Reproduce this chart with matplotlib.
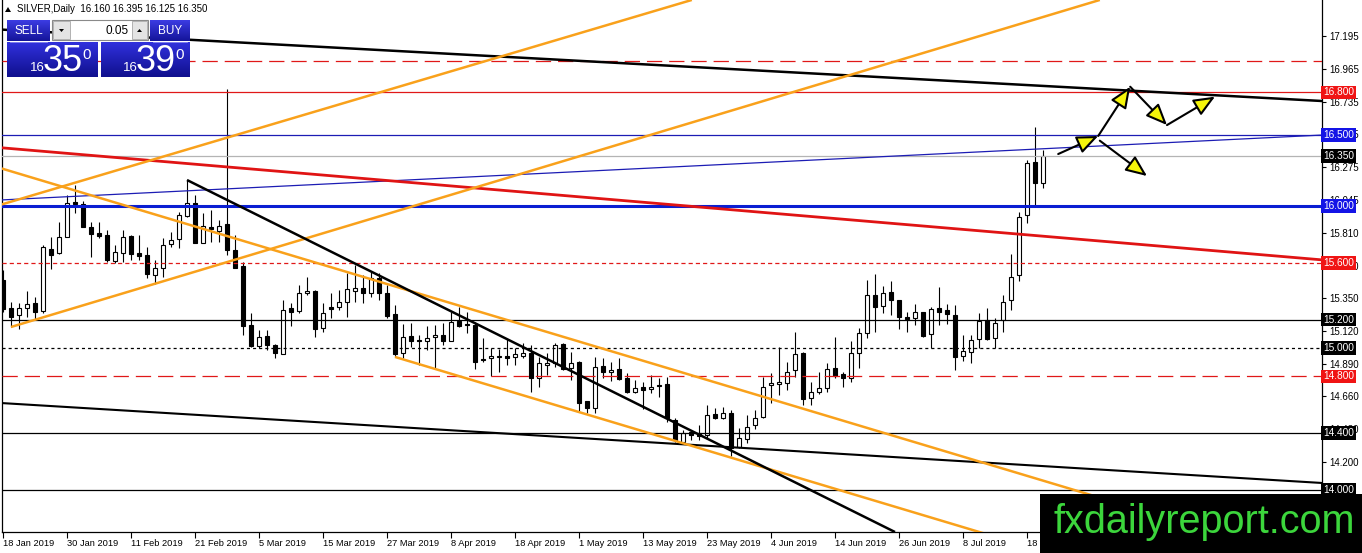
import numpy as np
import matplotlib
matplotlib.use('Agg')
import matplotlib.pyplot as plt
from matplotlib.patches import Rectangle, Polygon
from matplotlib.colors import LinearSegmentedColormap

plt.rcParams['font.family'] = ['Liberation Sans', 'DejaVu Sans']
plt.rcParams['lines.scale_dashes'] = False

# SILVER daily candles, 18 Jan 2019 onwards
opens = [15.479, 15.282, 15.232, 15.284, 15.317, 15.263, 15.695, 15.667, 15.784, 16.028,
         16.014, 15.854, 15.812, 15.796, 15.615, 15.671, 15.789, 15.671, 15.655, 15.514,
         15.561, 15.730, 15.766, 15.930, 16.023, 15.742, 15.854, 15.826, 15.873, 15.690,
         15.580, 15.162, 15.014, 15.085, 15.021, 14.958, 15.280, 15.261, 15.385, 15.401,
         15.139, 15.287, 15.291, 15.322, 15.404, 15.421, 15.385, 15.491, 15.385, 15.239,
         14.967, 15.085, 15.057, 15.052, 15.078, 15.092, 15.052, 15.192, 15.169, 15.162,
         14.920, 14.927, 14.940, 14.944, 14.935, 14.944, 14.963, 14.787, 14.880, 14.892,
         15.028, 14.857, 14.903, 14.629, 14.575, 14.873, 14.833, 14.850, 14.787, 14.692,
         14.723, 14.709, 14.737, 14.744, 14.493, 14.340, 14.406, 14.399, 14.388, 14.535,
         14.505, 14.544, 14.301, 14.357, 14.458, 14.512, 14.737, 14.744, 14.756, 14.845,
         14.963, 14.646, 14.692, 14.716, 14.857, 14.815, 14.787, 14.963, 15.104, 15.373,
         15.296, 15.397, 15.338, 15.220, 15.209, 15.251, 15.097, 15.280, 15.268, 15.232,
         14.944, 14.974, 15.064, 15.197, 15.069, 15.197, 15.338, 15.514, 15.937, 16.312,
         16.160]
highs = [15.549, 15.324, 15.317, 15.401, 15.359, 15.726, 15.780, 15.885, 16.077, 16.148,
         16.037, 15.889, 15.889, 15.831, 15.726, 15.831, 15.796, 15.796, 15.713, 15.620,
         15.773, 15.819, 15.960, 16.183, 16.077, 15.948, 15.972, 15.901, 16.822, 15.796,
         15.608, 15.244, 15.127, 15.127, 15.030, 15.338, 15.319, 15.444, 15.498, 15.405,
         15.315, 15.385, 15.408, 15.526, 15.585, 15.514, 15.537, 15.526, 15.444, 15.303,
         15.169, 15.174, 15.092, 15.155, 15.162, 15.174, 15.256, 15.287, 15.256, 15.185,
         15.068, 14.998, 14.990, 15.061, 14.998, 15.033, 15.021, 14.939, 14.967, 15.037,
         15.033, 14.974, 14.905, 14.630, 14.939, 14.932, 14.903, 14.927, 14.822, 14.775,
         14.763, 14.810, 14.787, 14.798, 14.505, 14.423, 14.423, 14.458, 14.599, 14.580,
         14.585, 14.563, 14.435, 14.528, 14.563, 14.798, 14.822, 15.009, 14.903, 15.115,
         14.975, 14.763, 14.833, 14.892, 15.080, 14.833, 15.052, 15.139, 15.479, 15.521,
         15.437, 15.474, 15.340, 15.256, 15.310, 15.256, 15.287, 15.432, 15.310, 15.303,
         15.092, 15.092, 15.249, 15.280, 15.209, 15.373, 15.662, 15.960, 16.324, 16.558,
         16.395]
lows = [15.254, 15.148, 15.134, 15.218, 15.197, 15.247, 15.559, 15.660, 15.782, 15.953,
        15.850, 15.643, 15.772, 15.608, 15.596, 15.608, 15.620, 15.620, 15.491, 15.451,
        15.502, 15.713, 15.702, 15.925, 15.742, 15.737, 15.744, 15.749, 15.655, 15.561,
        15.092, 15.010, 14.998, 14.986, 14.928, 14.955, 15.155, 15.244, 15.373, 15.080,
        15.115, 15.209, 15.268, 15.220, 15.326, 15.315, 15.361, 15.338, 15.209, 14.935,
        14.928, 15.009, 14.880, 14.986, 14.857, 15.021, 15.050, 15.150, 15.104, 14.850,
        14.901, 14.803, 14.833, 14.880, 14.880, 14.930, 14.692, 14.728, 14.810, 14.868,
        14.845, 14.775, 14.552, 14.540, 14.540, 14.787, 14.770, 14.775, 14.680, 14.680,
        14.568, 14.680, 14.658, 14.481, 14.340, 14.330, 14.352, 14.350, 14.364, 14.497,
        14.497, 14.239, 14.294, 14.329, 14.430, 14.510, 14.611, 14.669, 14.704, 14.798,
        14.599, 14.599, 14.675, 14.692, 14.787, 14.728, 14.763, 14.857, 15.068, 15.115,
        15.249, 15.232, 15.132, 15.115, 15.162, 15.075, 14.998, 15.162, 15.169, 14.845,
        14.910, 14.892, 14.998, 15.057, 14.998, 15.115, 15.268, 15.474, 15.882, 16.007,
        16.125]
closes = [15.275, 15.218, 15.282, 15.308, 15.254, 15.709, 15.657, 15.780, 16.023, 16.014,
          15.854, 15.801, 15.791, 15.620, 15.674, 15.780, 15.660, 15.650, 15.519, 15.561,
          15.726, 15.761, 15.937, 16.019, 15.742, 15.861, 15.838, 15.861, 15.690, 15.561,
          15.155, 15.014, 15.080, 15.021, 14.963, 15.268, 15.256, 15.385, 15.404, 15.132,
          15.244, 15.277, 15.326, 15.413, 15.421, 15.390, 15.491, 15.385, 15.225, 14.958,
          15.076, 15.052, 15.050, 15.069, 15.092, 15.052, 15.181, 15.155, 15.160, 14.903,
          14.915, 14.944, 14.944, 14.927, 14.958, 14.963, 14.787, 14.892, 14.892, 15.021,
          14.850, 14.892, 14.615, 14.575, 14.868, 14.829, 14.845, 14.780, 14.692, 14.716,
          14.704, 14.723, 14.732, 14.505, 14.352, 14.399, 14.388, 14.380, 14.528, 14.505,
          14.540, 14.294, 14.364, 14.446, 14.505, 14.728, 14.756, 14.763, 14.833, 14.956,
          14.639, 14.692, 14.720, 14.850, 14.803, 14.787, 14.963, 15.104, 15.373, 15.287,
          15.390, 15.338, 15.216, 15.206, 15.256, 15.087, 15.275, 15.256, 15.238, 14.939,
          14.979, 15.056, 15.190, 15.064, 15.178, 15.326, 15.502, 15.925, 16.305, 16.160,
          16.350]

date_labels = ['18 Jan 2019', '30 Jan 2019', '11 Feb 2019', '21 Feb 2019', '5 Mar 2019',
               '15 Mar 2019', '27 Mar 2019', '8 Apr 2019', '18 Apr 2019', '1 May 2019',
               '13 May 2019', '23 May 2019', '4 Jun 2019', '14 Jun 2019', '26 Jun 2019',
               '8 Jul 2019', '18 Jul 2019']
price_ticks = [17.195, 16.965, 16.735, 16.505, 16.275, 16.045, 15.810, 15.580,
               15.350, 15.120, 14.890, 14.660, 14.430, 14.200]

# horizontal levels
lvl_red_dash_top = 17.02
lvl_resist = 16.80
lvl_blue_thin = 16.50
lvl_bid = 16.35
lvl_blue_thick = 16.00
lvl_red_dot = 15.60
lvl_black_1 = 15.20
lvl_black_dot = 15.00
lvl_red_dash = 14.80
lvl_black_2 = 14.40
lvl_black_3 = 14.00

# trend lines, (bar, price) end points
black_top = [(-0.4, 17.243), (165, 16.739)]
blue_slope = [(-0.4, 16.042), (165, 16.500)]
red_slope = [(-0.4, 16.411), (165, 15.620)]
black_bottom = [(-0.4, 14.613), (165, 14.049)]
orange_up_low = [(1, 15.148), (137.1, 17.451)]
orange_up_high = [(-0.4, 16.007), (86.1, 17.451)]
orange_down_high = [(-0.4, 16.268), (165, 13.475)]
orange_down_low = [(49, 14.937), (165, 12.979)]
black_down = [(23, 16.183), (111.5, 13.704)]

# scenario arrows
arrows = [((131.9, 16.366), (136.9, 16.493)),
          ((136.9, 16.493), (140.9, 16.840)),
          ((137.1, 16.460), (143.0, 16.211)),
          ((140.9, 16.840), (145.5, 16.570)),
          ((145.5, 16.570), (151.5, 16.770))]

fig = plt.figure(figsize=(13.62, 5.53), dpi=100)
ax = fig.add_axes([2 / 1362, 21 / 553, 1320 / 1362, 532 / 553])
ax.set_xlim(-0.125, 164.875)
ax.set_ylim(13.7042, 17.4507)

x = np.arange(len(opens))
o = np.array(opens); h = np.array(highs); l = np.array(lows); c = np.array(closes)
up = c >= o
ax.vlines(x, l, h, color='black', lw=0.8, zorder=3)
ax.bar(x, np.abs(c - o), bottom=np.minimum(o, c), width=0.62,
       color=np.where(up, 'white', 'black'), edgecolor='black', lw=0.8, zorder=4)

orange = '#f9a11b'
# levels
ax.axhline(lvl_red_dash_top, color='#e01818', lw=0.9, dashes=(11, 5), zorder=5)
ax.axhline(lvl_resist, color='#e01818', lw=0.9, zorder=5)
ax.axhline(lvl_blue_thin, color='#1c1cb4', lw=0.9, zorder=5)
ax.axhline(lvl_bid, color='#b4b4b4', lw=0.9, zorder=5)
ax.axhline(lvl_blue_thick, color='#0a1ed2', lw=2.2, zorder=5)
ax.axhline(lvl_red_dot, color='#e01818', lw=0.9, dashes=(3, 2.2), zorder=5)
ax.axhline(lvl_black_1, color='black', lw=0.9, zorder=5)
ax.axhline(lvl_black_dot, color='black', lw=0.9, dashes=(2.2, 2.2), zorder=5)
ax.axhline(lvl_red_dash, color='#e01818', lw=0.9, dashes=(11, 5), zorder=5)
ax.axhline(lvl_black_2, color='black', lw=0.9, zorder=5)
ax.axhline(lvl_black_3, color='black', lw=0.9, zorder=5)

def seg(pts, **kw):
    ax.plot([pts[0][0], pts[1][0]], [pts[0][1], pts[1][1]], solid_capstyle='butt', zorder=5, **kw)

seg(black_top, color='black', lw=1.8)
seg(blue_slope, color='#1c1cb4', lw=0.9)
seg(red_slope, color='#e01414', lw=2.0)
seg(black_bottom, color='black', lw=1.5)
seg(orange_up_low, color=orange, lw=1.8)
seg(orange_up_high, color=orange, lw=1.8)
seg(orange_down_high, color=orange, lw=1.8)
seg(orange_down_low, color=orange, lw=1.8)
seg(black_down, color='black', lw=1.8)

for a, b in arrows:
    ax.annotate('', xy=b, xytext=a, zorder=7,
                arrowprops=dict(arrowstyle='-|>,head_length=1.3,head_width=0.55',
                                fc='#f5f50a', ec='black', lw=1.5, shrinkA=0, shrinkB=0))

# axes look
for s in ['left', 'right', 'bottom']:
    ax.spines[s].set_linewidth(0.9)
ax.spines['top'].set_visible(False)
ax.yaxis.tick_right()
ax.set_yticks(price_ticks)
ax.set_yticklabels(['%.3f' % v for v in price_ticks])
ax.tick_params(axis='y', direction='out', length=3, width=0.8, pad=2, labelsize=7)
ax.set_xticks(np.arange(0, 8 * len(date_labels), 8))
ax.set_xticklabels(date_labels, ha='left')
ax.tick_params(axis='x', direction='out', length=4, width=0.8, pad=1, labelsize=6.7)

price_boxes = [(lvl_resist, '#f01414'), (lvl_blue_thin, '#1414e6'), (lvl_bid, 'black'),
               (lvl_blue_thick, '#1414e6'), (lvl_red_dot, '#f01414'), (lvl_black_1, 'black'),
               (lvl_black_dot, 'black'), (lvl_red_dash, '#f01414'), (lvl_black_2, 'black'),
               (lvl_black_3, 'black')]
for v, col in price_boxes:
    ax.text(1.0008, v, '%.3f' % v, transform=ax.get_yaxis_transform(), ha='left',
            va='center', fontsize=7.3, color='white', clip_on=False, zorder=8,
            bbox=dict(boxstyle='square,pad=0.18', fc=col, ec='none'))

# overlay in pixel coordinates: trade panel, header, watermark
ov = fig.add_axes([0, 0, 1, 1])
ov.set_xlim(0, 1362)
ov.set_ylim(553, 0)
ov.axis('off')

def grad_box(x0, y0, x1, y1, top='#3c3ce2', bot='#14149a'):
    cm = LinearSegmentedColormap.from_list('btn', [top, bot])
    ov.imshow(np.linspace(0, 1, 32).reshape(-1, 1), extent=(x0, x1, y1, y0), cmap=cm,
              aspect='auto', origin='upper', zorder=2)

ov.add_patch(Polygon([(5, 12), (11, 12), (8, 7)], closed=True, fc='black', ec='none'))
ov.text(17, 9.5, 'SILVER,Daily  16.160 16.395 16.125 16.350', fontsize=7, va='center')

grad_box(7, 20, 50, 41)
ov.text(28.5, 31, 'SELL', color='white', fontsize=8.5, ha='center', va='center', zorder=3)
grad_box(150, 20, 190, 41)
ov.text(170, 31, 'BUY', color='white', fontsize=8.5, ha='center', va='center', zorder=3)
ov.add_patch(Rectangle((52, 20), 96, 20, fc='white', ec='#8a8a8a', lw=0.8, zorder=2))
ov.add_patch(Rectangle((53, 21), 17, 18, fc='#e4e4e4', ec='#a8a8a8', lw=0.6, zorder=3))
ov.add_patch(Rectangle((132, 21), 15, 18, fc='#e4e4e4', ec='#a8a8a8', lw=0.6, zorder=3))
ov.add_patch(Polygon([(59, 29), (64, 29), (61.5, 32)], fc='black', ec='none', zorder=4))
ov.add_patch(Polygon([(137, 32), (142, 32), (139.5, 29)], fc='black', ec='none', zorder=4))
ov.text(129, 31, '0.05', fontsize=8.5, ha='right', va='center', zorder=4)
ov.plot([10, 47], [41.5, 41.5], color='#8c8cf0', lw=0.6, zorder=4)
ov.plot([153, 187], [41.5, 41.5], color='#8c8cf0', lw=0.6, zorder=4)

grad_box(7, 42, 98, 77, '#3030dc', '#10108e')
grad_box(101, 42, 190, 77, '#3030dc', '#10108e')
for x0, big in [(30, '35'), (123, '39')]:
    ov.text(x0, 71, '16', color='white', fontsize=9.5, va='baseline', zorder=3)
    ov.text(x0 + 13, 71, big, color='white', fontsize=26, va='baseline', zorder=3)
    ov.text(x0 + 52, 59, '0', color='white', fontsize=11, va='baseline', zorder=3)

ov.add_patch(Rectangle((1040, 494), 322, 59, fc='black', ec='none', zorder=5))
ov.text(1054, 522, 'fxdailyreport.com', color='#3cd63c', fontsize=28.5, va='center',
        ha='left', zorder=6)

fig.savefig('out.png', dpi=100)
